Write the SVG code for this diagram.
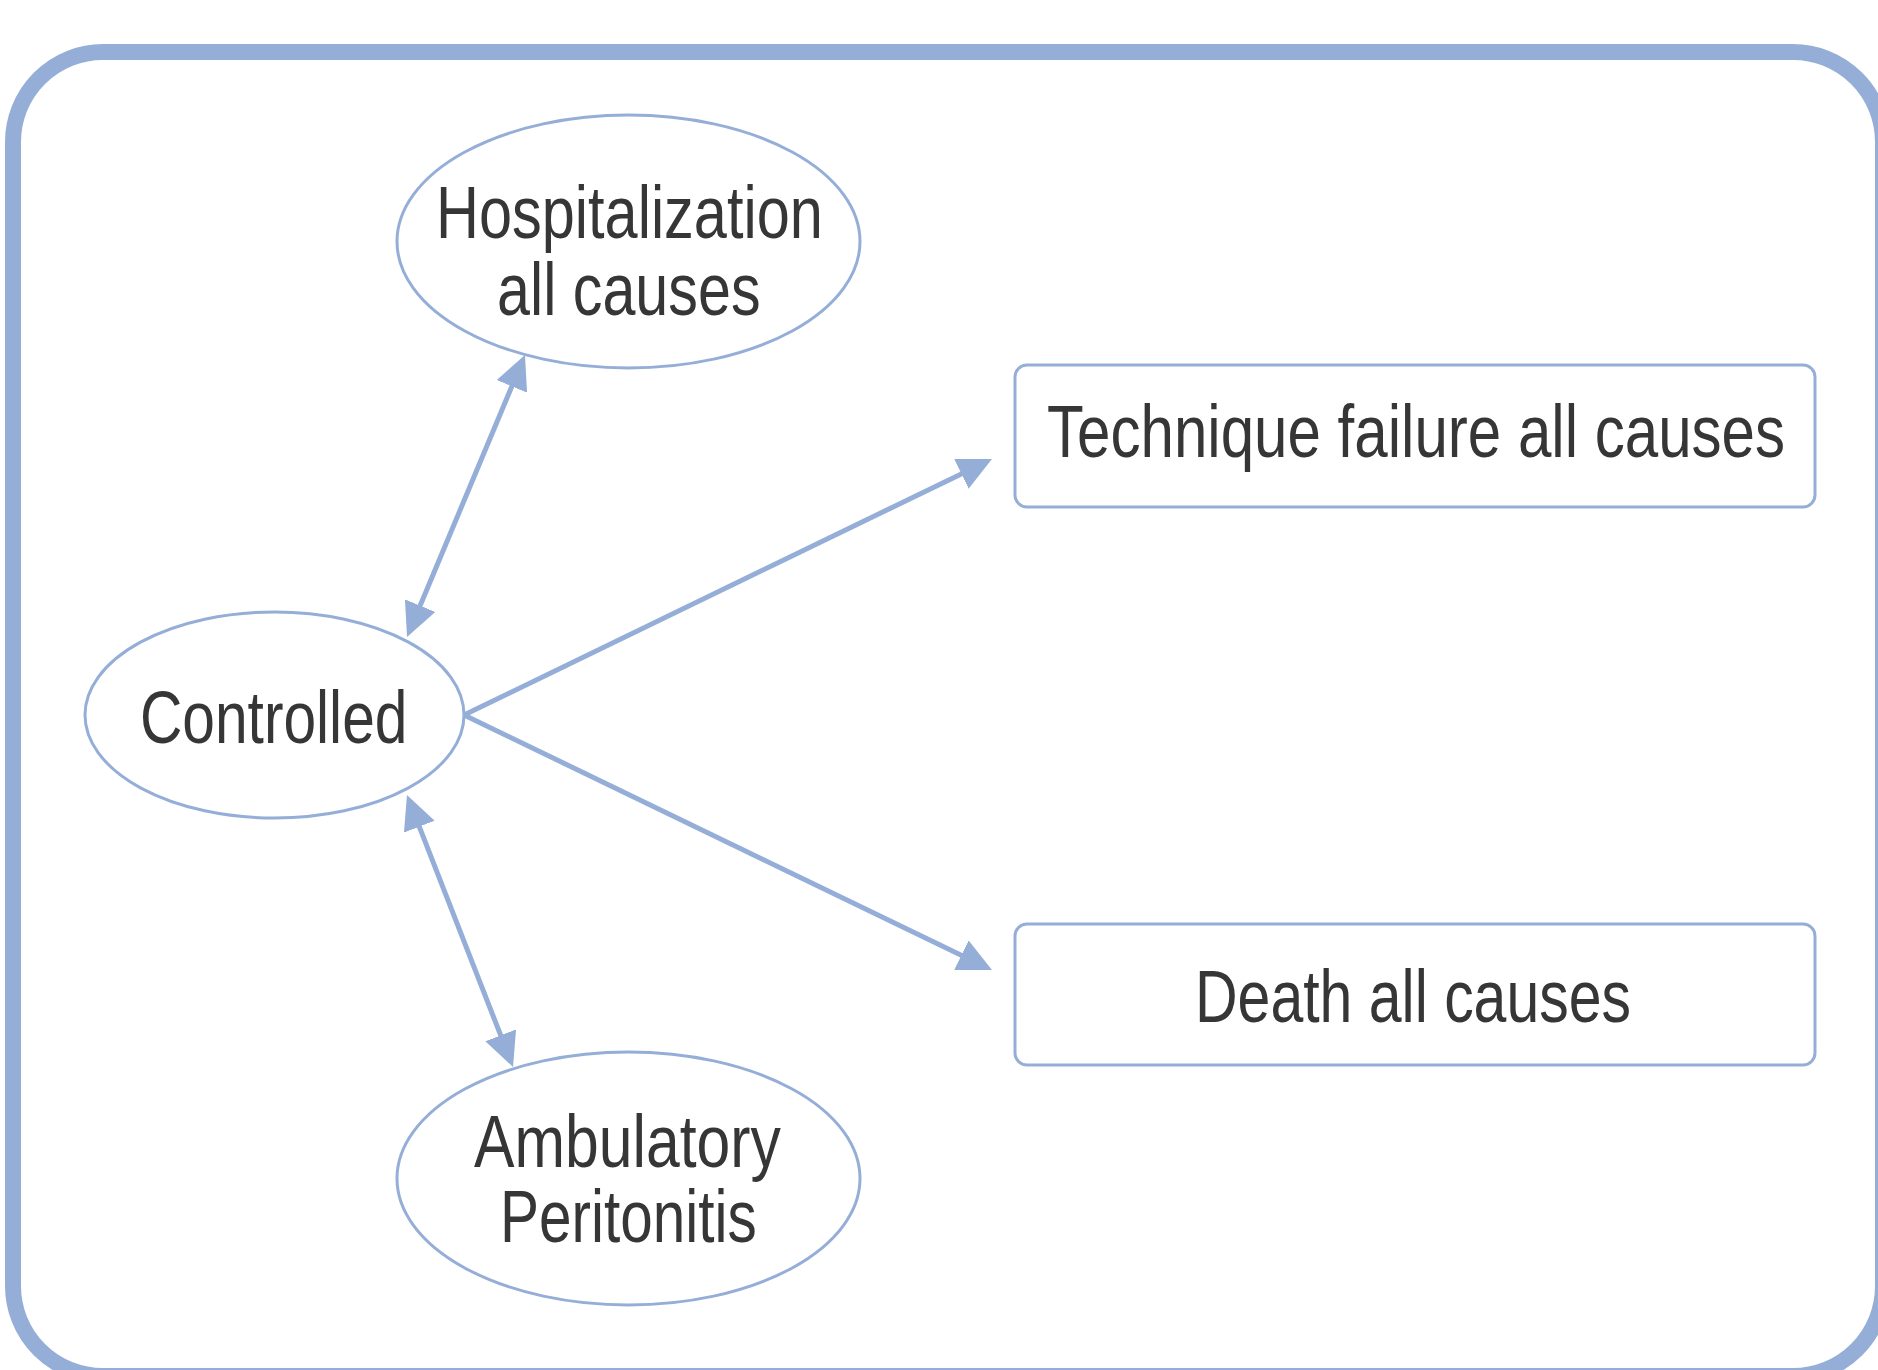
<svg xmlns="http://www.w3.org/2000/svg" width="1878" height="1370" viewBox="0 0 1878 1370">
<style>
.frame{fill:#ffffff;stroke:#95aed8;stroke-width:16}
.node{fill:#ffffff;stroke:#95aed8;stroke-width:3}
.lbl{font-family:"Liberation Sans",Arial,sans-serif;font-size:74px;fill:#363636}
.edge{stroke:#95aed8;stroke-width:5;fill:none}
</style>
<defs>
<marker id="arr" markerUnits="userSpaceOnUse" viewBox="0 0 34 33" markerWidth="34" markerHeight="33" refX="24" refY="16.5" orient="auto-start-reverse">
<path d="M0,0 L34,16.5 L0,33 Z" fill="#95aed8"/>
</marker>
</defs>
<rect class="frame" x="13" y="52" width="1870" height="1324" rx="90" ry="90"/>
<g id="connectors">
<line class="edge" x1="410.9" y1="627.8" x2="521.1" y2="364.2" marker-start="url(#arr)" marker-end="url(#arr)"/>
<line class="edge" x1="410.6" y1="804.3" x2="509.4" y2="1057.7" marker-start="url(#arr)" marker-end="url(#arr)"/>
<line class="edge" x1="464" y1="715" x2="983" y2="463.4" marker-end="url(#arr)"/>
<line class="edge" x1="464" y1="715" x2="983" y2="965.7" marker-end="url(#arr)"/>
</g>
<g id="hospitalization">
<ellipse class="node" cx="628.5" cy="241.5" rx="231.5" ry="126.5"/>
<text class="lbl" transform="translate(436,238) scale(0.804,1)">Hospitalization</text>
<text class="lbl" transform="translate(497,315) scale(0.801,1)">all causes</text>
</g>
<g id="controlled">
<ellipse class="node" cx="274.5" cy="715" rx="189.5" ry="103"/>
<text class="lbl" transform="translate(140,743) scale(0.793,1)">Controlled</text>
</g>
<g id="technique">
<rect class="node" x="1015" y="365" width="800" height="142" rx="12" ry="12"/>
<text class="lbl" transform="translate(1047,457) scale(0.812,1)">Technique failure all causes</text>
</g>
<g id="death">
<rect class="node" x="1015" y="924" width="800" height="141" rx="12" ry="12"/>
<text class="lbl" transform="translate(1195,1022) scale(0.797,1)">Death all causes</text>
</g>
<g id="ambulatory">
<ellipse class="node" cx="628.5" cy="1178.5" rx="231.5" ry="126.5"/>
<text class="lbl" transform="translate(474,1167) scale(0.82,1)">Ambulatory</text>
<text class="lbl" transform="translate(500,1242) scale(0.79,1)">Peritonitis</text>
</g>
</svg>
